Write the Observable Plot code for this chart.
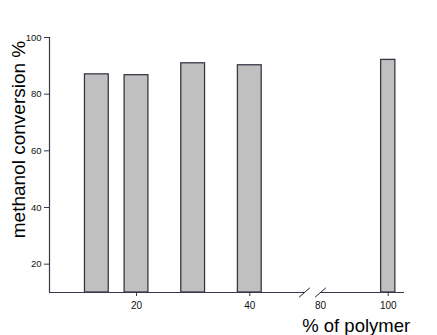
<!DOCTYPE html>
<html>
<head>
<meta charset="utf-8">
<script src="https://cdn.jsdelivr.net/npm/d3@7"></script>
<script src="https://cdn.jsdelivr.net/npm/@observablehq/plot@0.6"></script>
<style>
  html, body { margin: 0; padding: 0; background: white; }
</style>
</head>
<body>
<div id="chart"></div>
<script>
// ---- data ----
const polymerPct = [13, 20, 30, 40, 100];          // % of polymer
const conversion = [87.0, 86.7, 90.9, 90.2, 92.1];  // methanol conversion %
const barHalfWidth = 2.1;                           // in % of polymer units
const xTickValues = [20, 40, 80, 100];
const xTickMarks = [20, 40, 100];
const yTickValues = [20, 40, 60, 80, 100];
const yBase = 10;
const yTop = 100;
const xStart = 4.64;
const xEnd = 104.8;
const breakStart = 49.66;  // end of the first axis segment
const breakEnd = 80;       // start of the second axis segment

// ---- scale config (broken axis as piecewise linear scale) ----
const W = 437, H = 335;
const mTop = 37, mBottom = 43, mLeft = 49, mRight = 33;
const xDomain = [xStart, 40, breakStart, breakEnd, xEnd];
const xRange = [49, 249.3, 304, 320, 404];
const xs = d3.scaleLinear().domain(xDomain).range(xRange);
const ys = d3.scaleLinear().domain([yBase, yTop]).range([H - mBottom, mTop]);

const bars = polymerPct.map((x, i) => ({x, v: conversion[i]}));
const segments = [{x1: xStart, x2: breakStart}, {x1: breakEnd, x2: xEnd}];
const slashes = [breakStart, breakEnd].map(b => {
  const p = xs(b);
  return {
    x1: xs.invert(p - 5.4), y1: ys.invert(ys(yBase) + 4.7),
    x2: xs.invert(p + 5.4), y2: ys.invert(ys(yBase) - 4.7)
  };
});

const font = "'Liberation Sans', Arial, Helvetica, sans-serif";
const ink = "#3a3846";

const chart = Plot.plot({
  width: W,
  height: H,
  marginTop: mTop,
  marginBottom: mBottom,
  marginLeft: mLeft,
  marginRight: mRight,
  style: {fontFamily: font, background: "white", color: "#111"},
  x: {type: "linear", domain: xDomain, range: xRange},
  y: {type: "linear", domain: [yBase, yTop]},
  marks: [
    Plot.rectY(bars, {
      x1: d => d.x - barHalfWidth,
      x2: d => d.x + barHalfWidth,
      y1: () => yBase,
      y2: d => d.v,
      fill: "#c0c0c0",
      stroke: ink,
      strokeWidth: 1.3
    }),
    // y axis line
    Plot.ruleX([xStart], {y1: () => yBase, y2: () => yTop, stroke: ink, strokeWidth: 1.2}),
    // x axis line segments
    Plot.ruleY(segments, {x1: "x1", x2: "x2", y: () => yBase, stroke: ink, strokeWidth: 1.2}),
    // break marks
    Plot.link(slashes, {x1: "x1", y1: "y1", x2: "x2", y2: "y2", stroke: "#222", strokeWidth: 1}),
    Plot.axisY({ticks: yTickValues, tickSize: 5, tickPadding: 3, fontSize: 9.5, label: null, stroke: ink}),
    Plot.axisX({ticks: xTickMarks, tickSize: 4, tickFormat: () => "", label: null, stroke: ink}),
    Plot.axisX({ticks: xTickValues, tickSize: 0, tickPadding: 9, fontSize: 10, label: null}),
    Plot.text(["methanol conversion %"], {
      frameAnchor: "left", textAnchor: "middle", lineAnchor: "middle",
      rotate: -90, dx: -30.7, dy: -25.5,
      fontSize: 19, fill: "#000"
    }),
    Plot.text(["% of polymer"], {
      frameAnchor: "bottom-left", textAnchor: "start", lineAnchor: "bottom",
      dx: 252.7, dy: 39.5, fontSize: 18.5, fill: "#000"
    })
  ]
});
document.getElementById("chart").appendChild(chart);
</script>
</body>
</html>
